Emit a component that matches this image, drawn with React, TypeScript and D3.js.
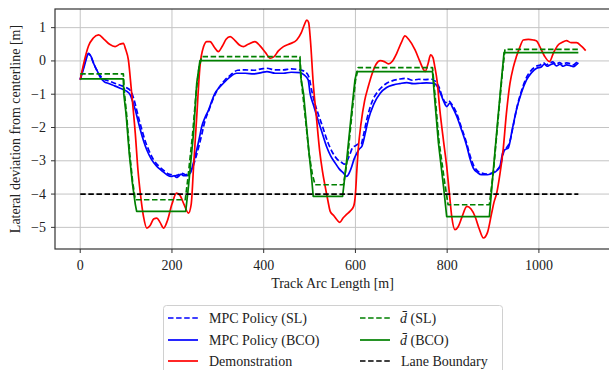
import * as d3 from "d3";

const WIDTH = 609;
const HEIGHT = 370;
const MARGIN = { top: 9, right: -1, bottom: 121, left: 55 };

const X_DOMAIN = [-55, 1155];
const Y_DOMAIN = [-5.65, 1.56];
const X_TICKS = [0, 200, 400, 600, 800, 1000];
const Y_TICKS = [-5, -4, -3, -2, -1, 0, 1];

// [track arc length, lateral deviation]
const mpcSL = [
  [0, -0.55], [8, -0.15], [14, 0.12], [18, 0.22], [24, 0.1], [30, -0.1], [36, -0.28], [44, -0.45],
  [52, -0.55], [62, -0.6], [75, -0.67], [87, -0.73], [100, -0.8], [110, -0.9], [117, -1.15],
  [123, -1.47], [129, -1.8], [135, -2.1], [142, -2.42], [150, -2.7], [160, -2.97], [172, -3.17],
  [183, -3.3], [193, -3.4], [200, -3.42], [207, -3.45], [214, -3.42], [222, -3.38], [230, -3.42],
  [238, -3.35], [245, -3.2], [252, -2.9], [259, -2.55], [266, -2.15], [272, -1.8], [280, -1.5],
  [288, -1.2], [296, -0.95], [305, -0.75], [315, -0.58], [328, -0.42], [343, -0.28], [360, -0.27],
  [378, -0.28], [395, -0.24], [407, -0.22], [425, -0.27], [443, -0.27], [460, -0.24], [479, -0.27],
  [490, -0.32], [499, -0.5], [504, -0.85], [511, -1.25], [519, -1.6], [529, -2.0], [540, -2.45],
  [550, -2.75], [560, -2.95], [570, -3.05], [576, -3.1], [582, -3.0], [588, -2.8], [594, -2.6],
  [600, -2.55], [606, -2.5], [612, -2.5], [618, -2.2], [625, -1.75], [637, -1.2], [650, -0.9],
  [665, -0.7], [680, -0.6], [695, -0.55], [710, -0.52], [724, -0.58], [738, -0.55], [752, -0.56],
  [766, -0.55], [775, -0.62], [782, -0.78], [790, -1.1], [797, -1.25], [803, -1.2], [810, -1.3],
  [820, -1.55], [831, -2.0], [842, -2.45], [850, -2.85], [858, -3.15], [866, -3.3], [875, -3.37],
  [888, -3.4], [900, -3.35], [909, -3.27], [917, -3.1], [924, -2.7], [930, -2.6], [936, -2.45],
  [944, -1.95], [952, -1.4], [962, -0.9], [972, -0.52], [982, -0.3], [993, -0.17], [1003, -0.12],
  [1010, -0.06], [1016, -0.12], [1023, -0.07], [1030, -0.03], [1037, -0.1], [1045, -0.05],
  [1052, -0.1], [1060, -0.06], [1068, -0.08], [1075, -0.12], [1081, -0.06], [1086, 0.0],
];

const mpcBCO = [
  [0, -0.57], [8, -0.2], [14, 0.1], [18, 0.23], [24, 0.12], [30, -0.1], [36, -0.27], [44, -0.5],
  [52, -0.62], [62, -0.68], [75, -0.75], [87, -0.82], [100, -0.9], [109, -1.02], [115, -1.25],
  [120, -1.47], [126, -1.8], [131, -2.07], [138, -2.4], [145, -2.67], [155, -2.95], [167, -3.17],
  [178, -3.3], [189, -3.42], [198, -3.47], [205, -3.45], [210, -3.5], [214, -3.47], [220, -3.4],
  [225, -3.45], [232, -3.45], [240, -3.37], [247, -3.05], [254, -2.67], [260, -2.3], [265, -1.97],
  [272, -1.7], [280, -1.47], [287, -1.2], [294, -0.97], [303, -0.8], [312, -0.67], [325, -0.5],
  [341, -0.37], [360, -0.37], [378, -0.39], [395, -0.35], [407, -0.32], [425, -0.37], [443, -0.37],
  [460, -0.34], [479, -0.35], [488, -0.42], [497, -0.57], [501, -0.97], [508, -1.3], [516, -1.67],
  [526, -2.1], [537, -2.57], [546, -2.85], [556, -3.07], [565, -3.25], [574, -3.37], [581, -3.47],
  [587, -3.35], [592, -3.17], [597, -2.95], [603, -2.77], [608, -2.65], [614, -2.57], [621, -2.2],
  [628, -1.77], [640, -1.3], [654, -0.97], [668, -0.8], [683, -0.72], [697, -0.68], [712, -0.65],
  [726, -0.68], [741, -0.67], [755, -0.66], [770, -0.67], [778, -0.75], [784, -0.92], [792, -1.2],
  [799, -1.37], [806, -1.27], [812, -1.4], [821, -1.67], [832, -2.1], [843, -2.57], [850, -2.95],
  [857, -3.22], [866, -3.35], [875, -3.42], [888, -3.42], [900, -3.37], [908, -3.3], [915, -3.17],
  [922, -2.72], [928, -2.65], [933, -2.62], [942, -2.05], [951, -1.47], [962, -0.95], [973, -0.57],
  [984, -0.35], [995, -0.22], [1005, -0.18], [1012, -0.1], [1018, -0.16], [1024, -0.12],
  [1032, -0.08], [1038, -0.15], [1046, -0.1], [1053, -0.16], [1060, -0.12], [1068, -0.14],
  [1075, -0.17], [1081, -0.12], [1086, -0.05],
];

const demonstration = [
  [0, -0.57], [8, -0.05], [18, 0.45], [28, 0.68], [40, 0.78], [52, 0.65], [64, 0.5], [76, 0.43],
  [86, 0.5], [94, 0.53], [99, 0.35], [105, 0.03], [111, -0.8], [120, -2.17], [126, -3.3],
  [131, -3.97], [138, -4.68], [145, -5.02], [152, -4.95], [160, -4.75], [167, -4.72], [174, -4.85],
  [182, -5.02], [190, -4.8], [200, -4.3], [210, -3.97], [218, -4.05], [226, -4.3], [236, -4.57],
  [242, -4.3], [247, -3.2], [254, -1.67], [261, -0.17], [269, 0.43], [276, 0.58], [283, 0.58],
  [292, 0.42], [301, 0.28], [310, 0.45], [318, 0.65], [327, 0.73], [337, 0.62], [347, 0.48],
  [356, 0.43], [366, 0.5], [381, 0.58], [392, 0.45], [404, 0.25], [414, 0.08], [422, 0.12],
  [432, 0.3], [443, 0.43], [458, 0.52], [472, 0.63], [482, 0.85], [489, 1.1], [494, 1.23],
  [498, 1.15], [502, 0.6], [508, -0.67], [515, -1.7], [522, -2.7], [528, -3.3], [534, -3.77],
  [540, -4.2], [545, -4.52], [553, -4.65], [560, -4.78], [566, -4.85], [573, -4.72], [580, -4.62],
  [588, -4.52], [596, -4.37], [600, -4.0], [603, -3.3], [606, -2.67], [612, -1.9], [620, -1.2],
  [628, -0.77], [636, -0.4], [645, -0.1], [654, 0.01], [663, -0.02], [672, -0.09], [681, 0.0],
  [690, 0.23], [700, 0.55], [708, 0.75], [716, 0.65], [730, 0.33], [740, 0.0], [748, -0.25],
  [752, -0.32], [758, -0.1], [764, 0.18], [769, 0.1], [773, -0.17], [778, -0.6], [784, -1.47],
  [792, -2.4], [799, -3.17], [805, -4.0], [810, -4.68], [817, -5.07], [824, -4.98], [832, -4.7],
  [843, -4.37], [852, -4.45], [861, -4.68], [870, -5.05], [879, -5.32], [888, -5.15], [897, -4.57],
  [902, -4.25], [908, -3.97], [915, -3.4], [922, -2.67], [929, -1.6], [937, -0.67], [944, -0.2],
  [951, 0.13], [958, 0.4], [966, 0.63], [977, 0.65], [988, 0.63], [995, 0.6], [1002, 0.43],
  [1012, 0.15], [1023, -0.02], [1032, 0.25], [1042, 0.48], [1050, 0.55], [1060, 0.61],
  [1070, 0.55], [1082, 0.55], [1092, 0.45], [1102, 0.31],
];

const dBarSL = [
  [0, -0.39], [94, -0.39], [96, -0.9], [101, -1.6], [108, -2.8], [114, -3.6], [120, -4.17],
  [229, -4.17], [235, -3.5], [245, -2.2], [253, -0.9], [259, -0.2], [265, 0.13], [479, 0.13],
  [482, -0.6], [490, -1.6], [499, -2.8], [506, -3.4], [512, -3.72], [574, -3.72], [583, -2.9],
  [593, -1.5], [600, -0.6], [606, -0.2], [768, -0.2], [774, -1.1], [782, -2.4], [794, -3.6],
  [802, -4.32], [892, -4.32], [901, -3.3], [912, -1.6], [920, -0.4], [926, 0.35], [1086, 0.35],
];

const dBarBCO = [
  [0, -0.54], [94, -0.54], [95, -1.0], [100, -1.6], [107, -2.8], [114, -3.7], [120, -4.3],
  [123, -4.52], [230, -4.52], [236, -3.77], [247, -2.17], [254, -0.67], [261, 0.01], [479, 0.01],
  [481, -0.5], [487, -1.0], [497, -2.5], [505, -3.6], [508, -4.07], [572, -4.07], [581, -2.97],
  [592, -1.47], [599, -0.57], [603, -0.32], [768, -0.32], [773, -1.17], [781, -2.47], [792, -3.77],
  [799, -4.68], [892, -4.68], [900, -3.37], [911, -1.67], [919, -0.47], [924, 0.25], [1086, 0.25],
];

const laneBoundary = [[0, -4], [1086, -4]];

const SERIES = [
  { name: "MPC Policy (SL)", data: mpcSL, color: "#0000ff", dash: "5.5,2.6", smooth: true },
  { name: "MPC Policy (BCO)", data: mpcBCO, color: "#0000ff", dash: null, smooth: true },
  { name: "Demonstration", data: demonstration, color: "#ff0000", dash: null, smooth: true },
  { name: "(SL)", data: dBarSL, color: "#008000", dash: "5.5,2.6", smooth: false },
  { name: "(BCO)", data: dBarBCO, color: "#008000", dash: null, smooth: false },
  { name: "Lane Boundary", data: laneBoundary, color: "#000000", dash: "5.5,2.6", smooth: false },
];

const FONT = "Liberation Serif, Times New Roman, serif";
const TEXT_COLOR = "#222";

export default function App() {
  const boundsWidth = WIDTH - MARGIN.left - MARGIN.right;
  const boundsHeight = HEIGHT - MARGIN.top - MARGIN.bottom;

  const xScale = d3.scaleLinear().domain(X_DOMAIN).range([0, boundsWidth]);
  const yScale = d3.scaleLinear().domain(Y_DOMAIN).range([boundsHeight, 0]);

  const smoothLine = d3
    .line()
    .x((d) => xScale(d[0]))
    .y((d) => yScale(d[1]))
    .curve(d3.curveMonotoneX);
  const straightLine = d3
    .line()
    .x((d) => xScale(d[0]))
    .y((d) => yScale(d[1]));

  const grid = (
    <g>
      {X_TICKS.map((t) => (
        <line key={"gx" + t} x1={xScale(t)} x2={xScale(t)} y1={0} y2={boundsHeight} stroke="#c4c4c4" strokeWidth={1} />
      ))}
      {Y_TICKS.map((t) => (
        <line key={"gy" + t} x1={0} x2={boundsWidth} y1={yScale(t)} y2={yScale(t)} stroke="#c4c4c4" strokeWidth={1} />
      ))}
    </g>
  );

  const lines = SERIES.map((s, i) => (
    <path
      key={i}
      d={(s.smooth ? smoothLine : straightLine)(s.data) || ""}
      fill="none"
      stroke={s.color}
      strokeWidth={1.7}
      strokeDasharray={s.dash || undefined}
      strokeLinejoin="round"
    />
  ));

  const xAxis = X_TICKS.map((t) => (
    <g key={"x" + t} transform={`translate(${xScale(t)},${boundsHeight})`}>
      <line y2={4} stroke="#333" strokeWidth={1} />
      <text y={16} textAnchor="middle" dominantBaseline="central" fontFamily={FONT} fontSize={14} fill={TEXT_COLOR}>
        {t}
      </text>
    </g>
  ));

  const yAxis = Y_TICKS.map((t) => (
    <g key={"y" + t} transform={`translate(0,${yScale(t)})`}>
      <line x2={-4} stroke="#333" strokeWidth={1} />
      <text x={-9} textAnchor="end" dominantBaseline="central" fontFamily={FONT} fontSize={14} fill={TEXT_COLOR}>
        {t < 0 ? "\u2212" + Math.abs(t) : t}
      </text>
    </g>
  ));

  // legend: two columns, three rows
  const legendRows = [318, 340, 361];
  const legendCols = [168, 360];
  const legend = SERIES.map((s, i) => {
    const col = legendCols[Math.floor(i / 3)];
    const y = legendRows[i % 3];
    const isDBar = i === 3 || i === 4;
    return (
      <g key={"lg" + i}>
        <line x1={col} x2={col + 30} y1={y} y2={y} stroke={s.color} strokeWidth={1.7} strokeDasharray={s.dash || undefined} />
        {isDBar ? (
          <text x={col + 40} y={y} dominantBaseline="central" fontFamily={FONT} fontSize={14} fill={TEXT_COLOR}>
            <tspan fontStyle="italic" fontSize={14}>{"d\u0304"}</tspan>
            <tspan fontSize={14}>{" " + s.name}</tspan>
          </text>
        ) : (
          <text x={col + 41} y={y} dominantBaseline="central" fontFamily={FONT} fontSize={14} fill={TEXT_COLOR}>
            {s.name}
          </text>
        )}
      </g>
    );
  });

  return (
    <svg width={WIDTH} height={HEIGHT} style={{ position: "absolute", left: 0, top: 0 }}>
      <rect width={WIDTH} height={HEIGHT} fill="#ffffff" />
      <g transform={`translate(${MARGIN.left},${MARGIN.top})`}>
        {grid}
        {lines}
        <rect x={0} y={0} width={boundsWidth} height={boundsHeight} fill="none" stroke="#333" strokeWidth={1.2} />
        {xAxis}
        {yAxis}
        <text x={boundsWidth / 2} y={boundsHeight + 34} textAnchor="middle" dominantBaseline="central" fontFamily={FONT} fontSize={14} fill={TEXT_COLOR}>
          Track Arc Length [m]
        </text>
      </g>
      <text
        transform={`translate(15,${MARGIN.top + boundsHeight / 2}) rotate(-90)`}
        textAnchor="middle"
        dominantBaseline="central"
        fontFamily={FONT}
        fontSize={14}
        fill={TEXT_COLOR}
      >
        Lateral deviation from centerline [m]
      </text>
      <rect x={163.5} y={305.5} width={339} height={80} rx={3} fill="#ffffff" stroke="#d0d0d0" strokeWidth={1} />
      {legend}
    </svg>
  );
}
